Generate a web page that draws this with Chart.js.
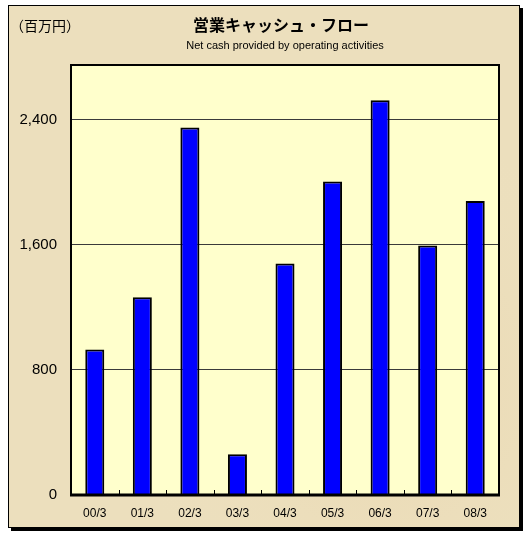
<!DOCTYPE html>
<html>
<head>
<meta charset="utf-8">
<script src="https://cdn.jsdelivr.net/npm/chart.js@4"></script>
<style>
  html, body { margin: 0; padding: 0; background: #fff; }
  #wrap { width: 524px; height: 533px; position: relative; }
</style>
</head>
<body>
<div id="wrap"><canvas id="cashChart" width="524" height="533"></canvas></div>
<script>
// Chart data
const periods = ['00/3', '01/3', '02/3', '03/3', '04/3', '05/3', '06/3', '07/3', '08/3'];
const cashFlow = [930, 1265, 2350, 260, 1480, 2005, 2525, 1595, 1880];
const yTicks = [0, 800, 1600, 2400];
const yMax = 2750;

const titleText = '営業キャッシュ・フロー';
const subtitleText = 'Net cash provided by operating activities';
const unitText = '（百万円）';

// Panel background, frame, plot fill and titles
const panelPlugin = {
    id: 'panel',
    beforeDraw(chart) {
        const ctx = chart.ctx;
        const a = chart.chartArea;
        ctx.save();
        ctx.fillStyle = '#ffffff';
        ctx.fillRect(0, 0, chart.width, chart.height);
        // shadow
        ctx.fillStyle = '#000';
        ctx.fillRect(11, 8, 512, 523);
        // parchment panel
        ctx.fillStyle = '#ecdfbd';
        ctx.fillRect(8, 5, 512, 523);
        const g = ctx.createRadialGradient(380, 380, 10, 380, 380, 260);
        g.addColorStop(0, 'rgba(230, 205, 160, 0.5)');
        g.addColorStop(1, 'rgba(240, 228, 195, 0)');
        ctx.fillStyle = g;
        ctx.fillRect(8, 5, 512, 523);
        ctx.strokeStyle = '#000';
        ctx.lineWidth = 1;
        ctx.strokeRect(8.5, 5.5, 511, 522);
        // plot area
        ctx.fillStyle = '#ffffcc';
        ctx.fillRect(a.left, a.top, a.right - a.left, a.bottom - a.top);
        // titles
        ctx.fillStyle = '#000';
        ctx.textAlign = 'center';
        ctx.textBaseline = 'middle';
        ctx.font = 'bold 16px "Noto Sans CJK JP"';
        ctx.fillText(titleText, 281, 25);
        ctx.font = '11px "Liberation Sans", Arial, sans-serif';
        ctx.fillText(subtitleText, 285, 46);
        ctx.textAlign = 'left';
        ctx.font = '14px "Noto Sans CJK JP"';
        ctx.fillText(unitText, 10, 26);
        ctx.restore();
    },
    afterDatasetsDraw(chart) {
        const ctx = chart.ctx;
        const a = chart.chartArea;
        const xs = chart.scales.x;
        ctx.save();
        ctx.strokeStyle = '#000';
        // inner tick marks between categories
        ctx.lineWidth = 1;
        ctx.beginPath();
        for (let i = 1; i < periods.length; i++) {
            const x = Math.round((xs.getPixelForValue(i - 1) + xs.getPixelForValue(i)) / 2) + 0.5;
            ctx.moveTo(x, a.bottom);
            ctx.lineTo(x, a.bottom - 5);
        }
        ctx.stroke();
        // plot frame
        ctx.lineWidth = 2;
        ctx.strokeRect(a.left, a.top, a.right - a.left, a.bottom - a.top);
        ctx.lineWidth = 3;
        ctx.beginPath();
        ctx.moveTo(a.left - 1, a.bottom);
        ctx.lineTo(a.right + 1, a.bottom);
        ctx.stroke();
        ctx.restore();
    }
};

new Chart(document.getElementById('cashChart'), {
    type: 'bar',
    data: {
        labels: periods,
        datasets: [{
            data: cashFlow,
            backgroundColor: '#0000ff',
            borderColor: '#000000',
            borderWidth: 2,
            categoryPercentage: 1,
            barPercentage: 0.4
        }]
    },
    options: {
        responsive: false,
        animation: false,
        layout: { padding: { top: 65, right: 25, bottom: 0, left: 0 } },
        plugins: {
            legend: { display: false },
            tooltip: { enabled: false }
        },
        scales: {
            x: {
                grid: { display: false, drawTicks: false },
                border: { display: false },
                ticks: {
                    color: '#000',
                    padding: 11,
                    font: { family: '"Liberation Sans", Arial, sans-serif', size: 12 }
                },
                afterFit(scale) { scale.height = 38; }
            },
            y: {
                min: 0,
                max: yMax,
                afterBuildTicks(scale) {
                    scale.ticks = yTicks.map(v => ({ value: v }));
                },
                grid: {
                    color: ctx => ctx.tick && ctx.tick.value === 0 ? 'rgba(0,0,0,0)' : '#3a3a3a',
                    lineWidth: 1,
                    drawTicks: false
                },
                border: { display: false },
                ticks: {
                    color: '#000',
                    padding: 14,
                    font: { family: '"Liberation Sans", Arial, sans-serif', size: 15 },
                    callback: v => v.toLocaleString('en-US')
                },
                afterFit(scale) { scale.width = 71; }
            }
        }
    },
    plugins: [panelPlugin]
});
</script>
</body>
</html>
